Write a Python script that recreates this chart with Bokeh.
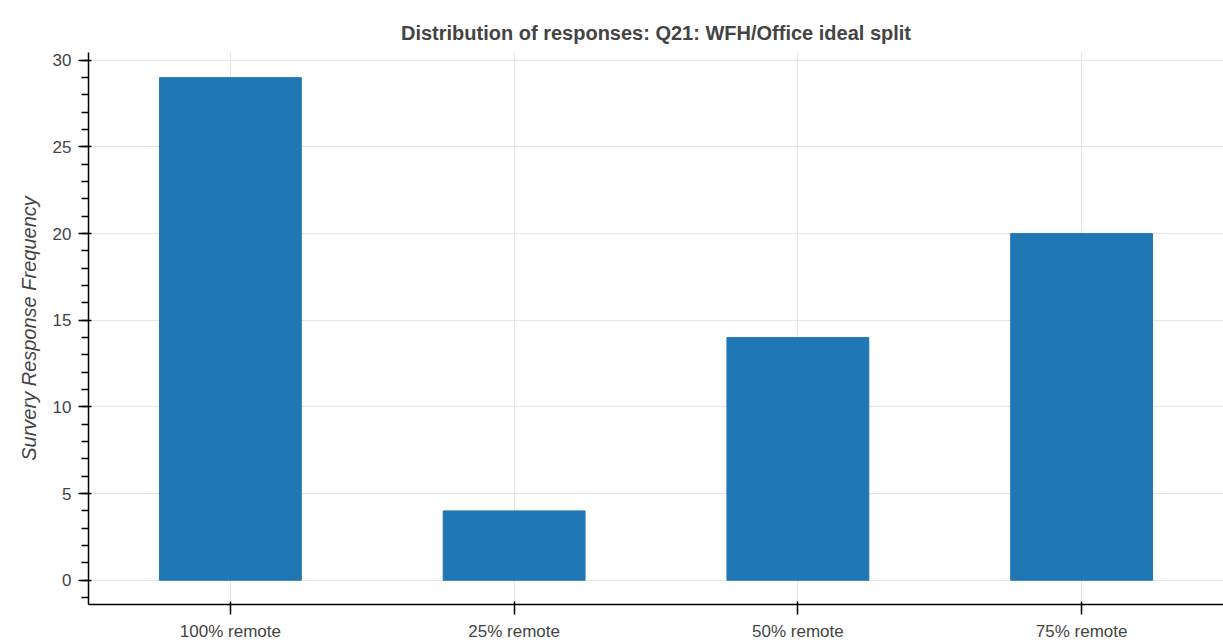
from bokeh.plotting import figure
from bokeh.models import ColumnDataSource, FactorRange, Range1d
from bokeh.embed import file_html
from bokeh.resources import INLINE

categories = ["100% remote", "25% remote", "50% remote", "75% remote"]
counts = [29, 4, 14, 20]

source = ColumnDataSource(dict(cat=categories, val=counts))

FONT = "Liberation Sans"

p = figure(
    x_range=FactorRange(*categories, range_padding=0),
    y_range=Range1d(-1.4, 30.45),
    width=1223, height=643,
    output_backend="svg", toolbar_location=None,
    title="Distribution of responses: Q21: WFH/Office ideal split",
    min_border_left=88, min_border_right=0, min_border_top=52, min_border_bottom=38,
)
p.vbar(x="cat", top="val", width=0.5, source=source, color="#1f77b4")

p.title.align = "center"
p.title.text_font = FONT
p.title.text_font_size = "20px"
p.title.text_font_style = "bold"
p.title.text_color = "#444444"
p.title.standoff = 17

p.yaxis.axis_label = "Survery Response Frequency"
for ax in (p.xaxis[0], p.yaxis[0]):
    ax.axis_label_text_font = FONT
    ax.axis_label_text_font_size = "20px"
    ax.axis_label_text_font_style = "italic"
    ax.axis_label_text_color = "#444444"
    ax.major_label_text_font = FONT
    ax.major_label_text_font_size = "17px"
    ax.major_label_text_color = "#444444"
    ax.major_tick_out = 10
    ax.major_tick_in = 3
    ax.minor_tick_out = 7
    ax.minor_tick_in = 0
    ax.axis_line_width = 1.5
    ax.major_tick_line_width = 1.5
    ax.minor_tick_line_width = 1.5
    ax.major_label_standoff = 7
    ax.axis_label_standoff = 10

p.outline_line_color = None
p.xgrid.grid_line_color = "#e5e5e5"
p.ygrid.grid_line_color = "#e5e5e5"

open("out.html", "w").write(file_html(p, INLINE))
